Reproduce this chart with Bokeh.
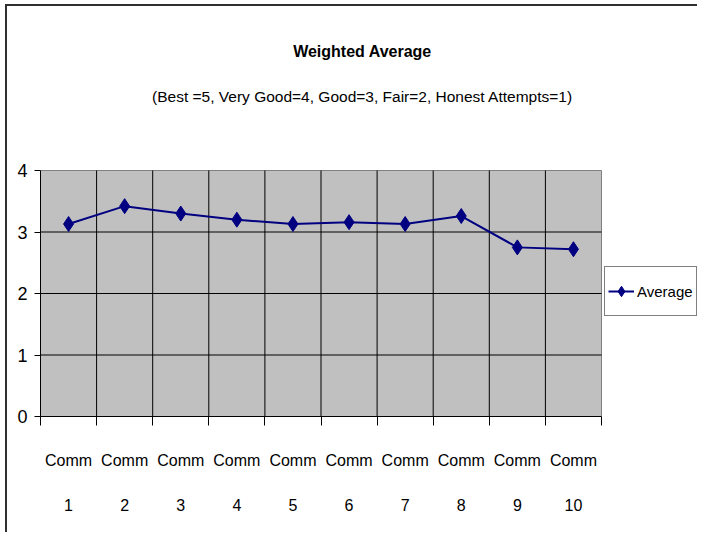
from bokeh.plotting import figure
from bokeh.models import Range1d, FixedTicker, Label, Legend, LegendItem
from bokeh.embed import file_html
from bokeh.resources import INLINE

# ---- data ----
categories = ["Comm\n1", "Comm\n2", "Comm\n3", "Comm\n4", "Comm\n5",
              "Comm\n6", "Comm\n7", "Comm\n8", "Comm\n9", "Comm\n10"]
average = [3.13, 3.42, 3.30, 3.20, 3.13, 3.16, 3.13, 3.26, 2.75, 2.72]
y_ticks = [0, 1, 2, 3, 4]
title_text = "Weighted Average"
subtitle_text = "(Best =5, Very Good=4, Good=3, Fair=2, Honest Attempts=1)"
series_name = "Average"

FONT = "Liberation Sans"
NAVY = "#000080"

# ---- layout (pixels inside the 697x532 canvas) ----
W, H = 697, 532
LEFT, BOTTOM = 40, 116            # plot-area left edge / space below it
AREA_W, AREA_H = 561, 246         # grey plot area size
FRAME_W = W - LEFT
FRAME_H = H - BOTTOM

xs = list(range(1, len(categories) + 1))
bounds = [i + 0.5 for i in range(0, len(categories) + 1)]
x0, x1 = bounds[0], bounds[-1]
y0, y1 = y_ticks[0], y_ticks[-1]
px_x = AREA_W / (x1 - x0)
px_y = AREA_H / (y1 - y0)

p = figure(width=W, height=H, output_backend="svg", toolbar_location=None,
           x_range=Range1d(x0, x0 + FRAME_W / px_x),
           y_range=Range1d(y0, y0 + FRAME_H / px_y),
           min_border_left=LEFT, min_border_right=0,
           min_border_top=0, min_border_bottom=BOTTOM)

# transparent canvas fills so the chart-area border (page background) shows
p.background_fill_alpha = 0
p.border_fill_alpha = 0
p.outline_line_color = None
p.styles = {
    "background": "linear-gradient(#303030, #303030) 5px 4px / 2px calc(100% - 4px) no-repeat, "
                  "linear-gradient(#303030, #303030) 5px 4px / calc(100% - 5px) 2px no-repeat, "
                  "white",
}
p.xgrid.visible = False
p.ygrid.visible = False

# grey plot area
p.quad(left=[x0], right=[x1], bottom=[y0], top=[y1],
       fill_color="#C0C0C0", line_color="#808080", line_width=1)
# grid lines
p.segment(x0=bounds[1:-1], x1=bounds[1:-1], y0=[y0] * (len(bounds) - 2),
          y1=[y1] * (len(bounds) - 2), line_color="black", line_width=1)
p.segment(x0=[x0] * (len(y_ticks) - 2), x1=[x1] * (len(y_ticks) - 2),
          y0=y_ticks[1:-1], y1=y_ticks[1:-1], line_color="black", line_width=1)

# x axis
xa = p.xaxis[0]
xa.bounds = (x0, x1)
xa.ticker = FixedTicker(ticks=xs, minor_ticks=bounds)
xa.major_label_overrides = {x: c for x, c in zip(xs, categories)}
xa.major_tick_line_color = None
xa.major_tick_out = 9
xa.major_tick_in = 0
xa.minor_tick_line_color = "black"
xa.minor_tick_out = 9
xa.minor_tick_in = 0
xa.axis_line_color = "black"
xa.major_label_text_font = FONT
xa.major_label_text_font_size = "16px"
xa.major_label_text_color = "black"
xa.major_label_text_line_height = 2.7
xa.major_label_standoff = 26

# y axis
ya = p.yaxis[0]
ya.bounds = (y0, y1)
ya.ticker = FixedTicker(ticks=y_ticks)
ya.minor_tick_line_color = None
ya.major_tick_out = 6
ya.major_tick_in = 0
ya.major_tick_line_color = "black"
ya.axis_line_color = "black"
ya.major_label_text_font = FONT
ya.major_label_text_font_size = "18px"
ya.major_label_text_color = "black"
ya.major_label_standoff = 7

# series
ln = p.line(xs, average, line_color=NAVY, line_width=2)
sc = p.scatter(xs, average, marker="diamond", size=15, fill_color=NAVY,
               line_color=NAVY)

# legend
lg = Legend(items=[LegendItem(label=series_name, renderers=[ln, sc])])
lg.location = (564, 100)
lg.border_line_color = "black"
lg.border_line_width = 1
lg.background_fill_color = "white"
lg.background_fill_alpha = 1
lg.padding = 3
lg.margin = 0
lg.spacing = 0
lg.glyph_width = 26
lg.glyph_height = 42
lg.label_height = 42
lg.label_standoff = 3
lg.label_text_font = FONT
lg.label_text_font_size = "15px"
lg.label_text_color = "black"
p.add_layout(lg)

# titles (positions from pixel layout)
tx = x0 + (362 - LEFT) / px_x
p.add_layout(Label(x=tx, y=(FRAME_H - 51) / px_y, text=title_text,
                   text_align="center", text_baseline="alphabetic",
                   text_font=FONT, text_font_style="bold", text_font_size="16px",
                   text_color="black"))
p.add_layout(Label(x=tx, y=(FRAME_H - 96) / px_y, text=subtitle_text,
                   text_align="center", text_baseline="alphabetic",
                   text_font=FONT, text_font_size="15.5px", text_color="black"))

open("out.html", "w").write(file_html(p, INLINE))
